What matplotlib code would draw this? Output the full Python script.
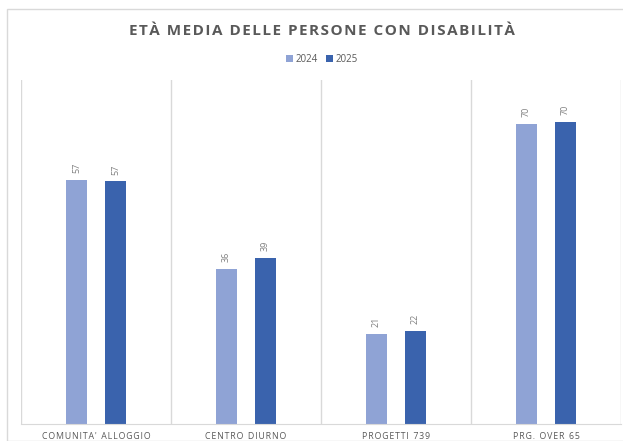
import numpy as np
import matplotlib
matplotlib.use("Agg")
from matplotlib import pyplot as plt
from matplotlib.patches import Rectangle

# Data
categories = ["COMUNITA' ALLOGGIO", "CENTRO DIURNO", "PROGETTI 739", "PRG. OVER 65"]
values_2024 = [56.8, 36.0, 20.9, 69.8]
values_2025 = [56.4, 38.6, 21.6, 70.2]
labels_2024 = ["57", "36", "21", "70"]
labels_2025 = ["57", "39", "22", "70"]
series_names = ["2024", "2025"]
title = "ETÀ MEDIA DELLE PERSONE CON DISABILITÀ"

color_2024 = '#8FA3D5'
color_2025 = '#3A63AD'
grey_text = '#595959'

plt.rcParams['font.family'] = ['Open Sans', 'DejaVu Sans']


def spread(s, word_gap='  ', gap='\u200a'):
    # fake letter spacing with hair spaces
    return gap.join(s).replace(gap + ' ' + gap, word_gap)


fig = plt.figure(figsize=(6.23, 4.41), dpi=100)
ax = fig.add_axes([21 / 623, 1 - 424 / 441, 600 / 623, 344 / 441])

# Chart frame
fig.patches.append(Rectangle((7 / 623, 0), 1, 1 - 9 / 441, transform=fig.transFigure,
                             fill=False, edgecolor='#D9D9D9', linewidth=1))

x = np.arange(len(categories))
width = 0.135
offset = 0.13
b1 = ax.bar(x - offset, values_2024, width, color=color_2024, label=series_names[0])
b2 = ax.bar(x + offset, values_2025, width, color=color_2025, label=series_names[1])

# Value labels, rotated
for bars, labs in ((b1, labels_2024), (b2, labels_2025)):
    for rect, lab in zip(bars, labs):
        ax.annotate(lab, (rect.get_x() + rect.get_width() / 2, rect.get_height()),
                    xytext=(0, 5), textcoords='offset points', rotation=90,
                    ha='center', va='bottom', fontsize=6.5, color='#7F7F7F')

ax.set_xlim(-0.5, len(categories) - 0.5)
ax.set_ylim(0, 80)

# Vertical separators between categories
for b in np.arange(-0.5, len(categories)):
    ax.axvline(b, color='#D9D9D9', linewidth=1, zorder=0)

for side in ('top', 'right', 'left'):
    ax.spines[side].set_visible(False)
ax.spines['bottom'].set_color('#D9D9D9')
ax.set_yticks([])
ax.set_xticks(x)
ax.set_xticklabels([spread(c) for c in categories], fontsize=6.3, color=grey_text)
ax.tick_params(axis='x', length=0, pad=6)

fig.text(321.5 / 623, 1 - 31 / 441, spread(title, word_gap=' \u2009'), ha='center', va='center',
         fontsize=11, fontweight='bold', color=grey_text)

fig.legend(loc='center', bbox_to_anchor=(0.517, 1 - 59 / 441), ncol=2, frameon=False,
           fontsize=7, handlelength=0.7, handleheight=0.7, handletextpad=0.3,
           columnspacing=0.8, labelcolor=grey_text)

fig.savefig('out.png', dpi=100)
